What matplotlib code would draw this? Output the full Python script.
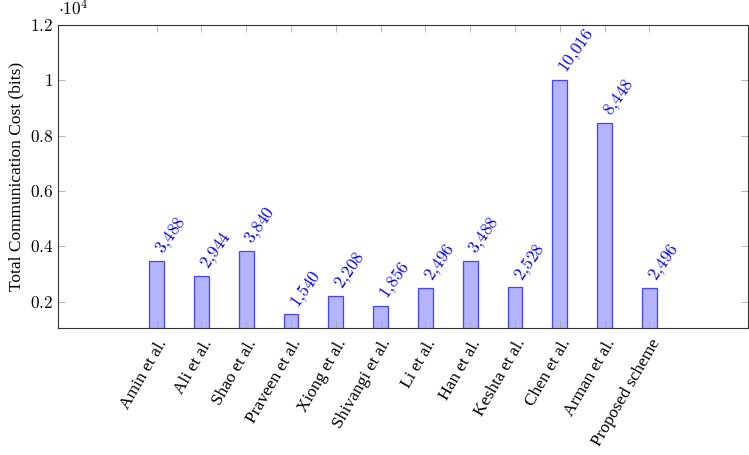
import matplotlib.pyplot as plt
import numpy as np
from matplotlib.ticker import FuncFormatter

plt.rcParams['font.family'] = ['Liberation Serif', 'DejaVu Serif']
plt.rcParams['mathtext.fontset'] = 'cm'

schemes = ["Amin et al.", "Ali et al.", "Shao et al.", "Praveen et al.",
           "Xiong et al.", "Shivangi et al.", "Li et al.", "Han et al.",
           "Keshta et al.", "Chen et al.", "Arman et al.", "Proposed scheme"]
cost = [3488, 2944, 3840, 1540, 2208, 1856, 2496, 3488, 2528, 10016, 8448, 2496]

fig = plt.figure(figsize=(7.49, 4.55), dpi=100)
ax = fig.add_axes([58/749, 1-328/455, 690/749, 303/455])

x = np.arange(len(schemes))
bars = ax.bar(x, cost, width=0.33, color="#b3b3ff", edgecolor="#4444ff", linewidth=0.9)

# value labels above each bar, rotated like pgfplots nodes near coords
for bar, v in zip(bars, cost):
    ax.annotate(f"${v:,}$".replace(",", "{,}"), (bar.get_x() + bar.get_width()/2, v),
                xytext=(2.5, 6), textcoords="offset points",
                rotation=55, rotation_mode="anchor", ha="left", va="center",
                color="blue", fontsize=12.5)

ax.set_xlim(-2.2, 13.2)
ax.set_ylim(1050, 12000)
ax.set_yticks([2000, 4000, 6000, 8000, 10000, 12000])
ax.yaxis.set_major_formatter(FuncFormatter(lambda v, p: f"${v/1e4:g}$"))
ax.set_xticks(x)
ax.set_xticklabels(schemes, rotation=60, ha="right", rotation_mode="anchor", fontsize=12.5)
ax.tick_params(axis="y", labelsize=12.5)
ax.tick_params(direction="in", top=True, right=True, length=5, color="#aaaaaa", width=0.6)
ax.tick_params(axis="x", pad=6)
for s in ax.spines.values():
    s.set_linewidth(0.8)
    s.set_color("#333333")

ax.set_ylabel("Total Communication Cost (bits)", fontsize=12.5, labelpad=4)
ax.text(0.0, 1.02, r"$\cdot 10^4$", transform=ax.transAxes, fontsize=12.5, ha="left", va="bottom")

fig.savefig("out.png", dpi=100)
